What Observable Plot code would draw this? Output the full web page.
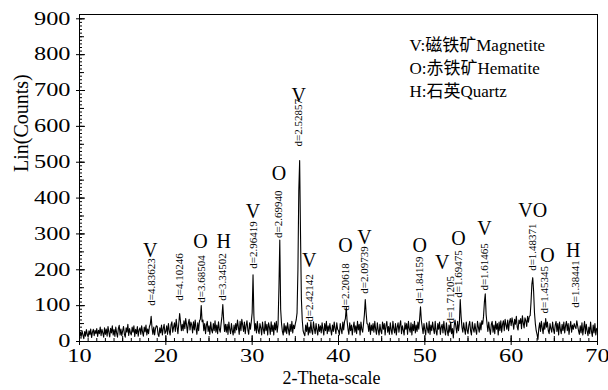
<!DOCTYPE html>
<html><head><meta charset="utf-8">
<script src="https://cdn.jsdelivr.net/npm/d3@7"></script>
<script src="https://cdn.jsdelivr.net/npm/@observablehq/plot@0.6"></script>
<style>body{margin:0;background:#fff} svg{display:block}</style>
</head><body><div id="chart"></div>
<script>
// XRD scan: 2-theta from 10 to 70, step 0.1
const thetaStart = 10, thetaStep = 0.1;
const counts = [
 10,26,14,30,18,8,28,15,33,20,
 12,30,19,35,11,26,34,16,31,22,
 36,14,31,22,40,16,34,24,12,38,
 20,35,15,42,26,13,37,24,44,18,
 33,14,40,24,12,36,45,18,35,16,
 30,42,20,12,38,26,48,17,36,24,
 18,40,26,44,14,34,22,42,15,32,
 38,20,44,26,15,40,27,46,18,35,
 22,42,48,70,38,20,40,18,36,44,
 42,20,14,38,24,46,18,36,48,22,
 28,44,20,50,30,18,46,55,26,40,
 52,28,62,40,22,50,78,55,30,48,
 30,58,36,64,46,24,50,62,32,54,
 46,24,55,32,60,36,20,52,30,58,
 62,100,55,60,30,50,22,46,56,28,
 44,20,54,32,24,50,30,58,26,46,
 22,55,34,26,50,70,103,60,28,48,
 26,48,20,54,34,22,50,30,18,46,
 24,50,32,60,40,20,56,30,62,46,
 28,54,22,44,58,32,20,52,34,55,
 80,186,72,30,50,24,56,32,22,50,
 38,18,54,34,22,56,30,48,18,52,
 40,20,55,28,46,18,52,32,56,26,
 48,150,283,90,50,28,18,50,26,44,
 22,52,34,18,48,28,56,24,46,36,
 50,60,80,200,420,505,300,120,60,30,
 22,16,46,28,52,18,40,24,54,30,
 20,55,36,22,50,32,18,48,28,44,
 24,52,34,18,50,30,56,22,44,28,
 50,32,18,46,28,54,36,22,52,34,
 30,18,50,34,22,54,32,56,64,95,
 56,34,20,52,30,46,18,40,54,26,
 44,22,56,32,48,18,54,34,26,50,
 75,117,80,50,48,28,52,20,46,30,
 50,26,56,34,20,52,32,18,48,30,
 22,54,34,50,18,44,56,26,42,20,
 52,32,20,56,36,24,50,18,40,52,
 26,46,58,22,44,32,18,52,34,50,
 20,56,36,26,52,18,48,30,56,24,
 46,28,54,34,64,97,58,40,22,50,
 32,18,52,36,24,56,20,46,30,54,
 36,22,56,28,18,50,34,54,20,40,
 48,24,56,32,18,52,30,16,46,26,
 54,22,36,10,44,60,40,24,56,30,
 50,117,70,40,26,52,34,20,54,32,
 22,46,56,30,18,54,36,26,50,32,
 20,56,40,26,52,32,58,48,70,110,
 133,75,50,28,54,34,20,48,56,26,
 46,22,56,34,50,18,54,30,58,26,
 48,58,30,62,46,34,60,30,54,64,
 44,66,52,34,62,48,70,40,32,60,
 50,64,36,72,52,38,66,58,42,70,
 54,70,72,110,160,178,140,80,50,30,
 20,6,36,52,28,56,38,22,52,34,
 64,40,54,30,22,50,36,26,54,34,
 22,46,56,28,50,18,54,34,22,48,
 30,54,24,44,56,30,50,20,40,56,
 26,46,34,50,42,36,58,44,30,20,
 44,24,52,18,38,56,22,48,30,16,
 40,22,54,28,14,46,24,50,18,36,
 38
];

// Peak annotations
const peakTheta   = [18.33, 21.65, 24.13, 26.63, 30.13, 33.16, 35.47, 37.10, 40.87, 43.10, 49.45, 53.48, 54.07, 56.99, 62.55, 64.00, 67.62];
const dSpacing    = ["4.83623","4.10246","3.68504","3.34502","2.96419","2.69940","2.52857","2.42142","2.20618","2.09739","1.84159","1.71205","1.69475","1.61465","1.48371","1.45345","1.38441"];
const phase       = ["V","","O","H","V","O","V","V","O","V","O","V","O","V","VO","O","H"];
const labelTheta  = [18.3, 21.6, 24.1, 26.6, 30.1, 33.1, 35.4, 36.6, 40.8, 43.0, 49.4, 53.0, 53.9, 56.9, 62.5, 63.9, 67.4];
const labelBase   = [100, 114, 108, 114, 203, 289, 544, 55, 86, 133, 105, 50, 122, 142, 197, 78, 94];
const letterTheta = [18.2, null, 24.0, 26.7, 30.1, 33.1, 35.4, 36.6, 40.8, 43.0, 49.4, 52.0, 53.9, 56.9, 62.5, 64.2, 67.2];
const letterCount = [253, null, 278, 278, 361, 469, 686, 225, 267, 289, 267, 219, 286, 314, 364, 239, 253];

const legendLines = ["V:磁铁矿Magnetite", "O:赤铁矿Hematite", "H:石英Quartz"];
const xTickLabels = [10, 20, 30, 40, 50, 60, 70];
const yTickLabels = [0, 100, 200, 300, 400, 500, 600, 700, 800, 900];
const xLabel = "2-Theta-scale";
const yLabel = "Lin(Counts)";

const series = counts.map((c, i) => ({theta: +(thetaStart + i * thetaStep).toFixed(1), counts: c}));
const annots = peakTheta.map((t, i) => ({
  labelTheta: labelTheta[i], base: labelBase[i], d: "d=" + dSpacing[i],
  letterTheta: letterTheta[i], letterY: letterCount[i], phase: phase[i]
}));
const letters = annots.filter(a => a.phase);

const FONT = "'Liberation Serif', 'Noto Sans CJK SC', serif";

const chart = Plot.plot({
  width: 608, height: 390,
  marginLeft: 79, marginRight: 11, marginTop: 14, marginBottom: 49,
  style: {fontFamily: FONT, background: "#fff", color: "#000"},
  x: {domain: [10, 70]},
  y: {domain: [0, 912]},
  marks: [
    Plot.frame({stroke: "#000", strokeWidth: 1}),
    // x ticks (inward)
    Plot.axisX({ticks: d3.range(10, 71, 1), tickSize: 3, dy: -3, text: null, label: null}),
    Plot.axisX({ticks: d3.range(10, 71, 5), tickSize: 5, dy: -5, text: null, label: null}),
    Plot.axisX({ticks: xTickLabels, tickSize: 10, dy: -6, text: null, label: null}),
    Plot.axisX({ticks: xTickLabels, tickSize: 0, tickPadding: 8, fontSize: 18, label: null}),
    // y ticks (inward)
    Plot.axisY({ticks: d3.range(0, 901, 10), tickSize: 3, dx: 3, text: null, label: null}),
    Plot.axisY({ticks: d3.range(0, 901, 50), tickSize: 5, dx: 5, text: null, label: null}),
    Plot.axisY({ticks: yTickLabels, tickSize: 9, dx: 6, text: null, label: null}),
    Plot.axisY({ticks: yTickLabels, tickSize: 0, tickPadding: 9, fontSize: 18, label: null}),
    // data
    Plot.line(series, {x: "theta", y: "counts", stroke: "#000", strokeWidth: 1.1}),
    // annotations
    Plot.text(annots, {x: "labelTheta", y: "base", text: "d", rotate: -90, textAnchor: "start",
      lineAnchor: "middle", fontSize: 11, fill: "#000", ariaLabel: "dlabel"}),
    Plot.text(letters, {x: "letterTheta", y: "letterY", text: "phase", textAnchor: "middle",
      lineAnchor: "middle", fontSize: 20, fill: "#000", ariaLabel: "letters"}),
    // legend
    ...legendLines.map((t, i) => Plot.text([t], {frameAnchor: "top-left", dx: 330, dy: 31 + 23 * i,
      textAnchor: "start", lineAnchor: "middle", fontSize: 17, fill: "#000", ariaLabel: "legend"})),
    // axis titles
    Plot.text([xLabel], {frameAnchor: "bottom", dx: -7, dy: 37, lineAnchor: "middle", fontSize: 18, fill: "#000", ariaLabel: "xtitle"}),
    Plot.text([yLabel], {frameAnchor: "left", dx: -58, dy: -6, rotate: -90, lineAnchor: "middle",
      fontSize: 20, fill: "#000", ariaLabel: "ytitle"})
  ]
});
document.getElementById("chart").appendChild(chart);

// italic "d" in the d-spacing labels
chart.querySelectorAll('g[aria-label="dlabel"] text').forEach(t => {
  const s = t.textContent;
  t.textContent = "";
  const ns = "http://www.w3.org/2000/svg";
  const a = document.createElementNS(ns, "tspan");
  a.setAttribute("font-style", "italic");
  a.textContent = s.slice(0, 1);
  const b = document.createElementNS(ns, "tspan");
  b.textContent = s.slice(1);
  t.appendChild(a); t.appendChild(b);
});

// horizontal stretch of the printed figure's text
function stretch(sel, k) {
  chart.querySelectorAll(sel).forEach(t => {
    const L = t.getComputedTextLength();
    t.setAttribute("textLength", (L * k).toFixed(1));
    t.setAttribute("lengthAdjust", "spacingAndGlyphs");
  });
}
stretch('g[aria-label="x-axis tick label"] text', 1.35);
stretch('g[aria-label="y-axis tick label"] text', 1.35);
stretch('g[aria-label="legend"] text', 1.34);
stretch('g[aria-label="xtitle"] text', 1.33);
stretch('g[aria-label="ytitle"] text', 1.1);
stretch('g[aria-label="dlabel"] text', 1.08);
</script>
</body></html>
